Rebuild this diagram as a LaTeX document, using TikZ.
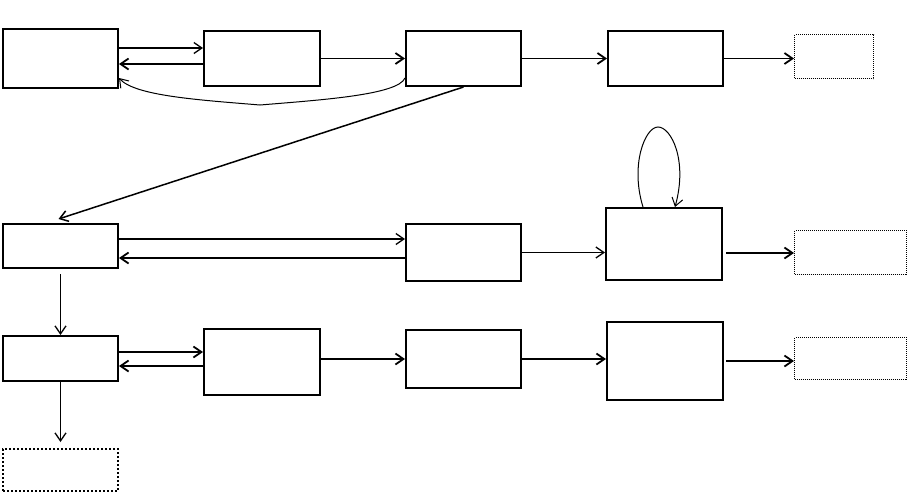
\documentclass[tikz,border=0pt]{standalone}
\usetikzlibrary{arrows.meta}
\begin{document}
\begin{tikzpicture}[x=1pt,y=-1pt,
  box/.style={draw, line width=2pt, inner sep=0pt, anchor=north west},
  dbox/.style={draw, line width=1pt, dash pattern=on 1pt off 1pt, inner sep=0pt, anchor=north west},
  dboxthick/.style={draw, line width=2pt, dash pattern=on 2pt off 2pt, inner sep=0pt, anchor=north west},
  tip/.style={-{Straight Barb[length=8pt,width=11pt]}},
  arr/.style={line width=1.8pt, tip},
  midarr/.style={line width=1.3pt, tip},
  thinarr/.style={line width=1pt, tip}]
\useasboundingbox (0,0) rectangle (907,491);
% row 1
\node[box, minimum width=115pt, minimum height=59pt] (A) at (2,28) {};
\node[box, minimum width=116pt, minimum height=55pt] (B) at (203,30) {};
\node[box, minimum width=115pt, minimum height=55pt] (C) at (405,30) {};
\node[box, minimum width=115pt, minimum height=55pt] (D) at (607,30) {};
\node[dbox, minimum width=79pt, minimum height=44pt] (E) at (794,34) {};
% row 2
\node[box, minimum width=115pt, minimum height=44pt] (F) at (2,223) {};
\node[box, minimum width=115pt, minimum height=57pt] (G) at (405,223) {};
\node[box, minimum width=116pt, minimum height=72pt] (H) at (605,207) {};
\node[dbox, minimum width=112pt, minimum height=44pt] (I) at (794,230) {};
% row 3
\node[box, minimum width=115pt, minimum height=45pt] (J) at (2,335) {};
\node[box, minimum width=116pt, minimum height=66pt] (K) at (203,328) {};
\node[box, minimum width=115pt, minimum height=58pt] (L) at (405,329) {};
\node[box, minimum width=116pt, minimum height=78pt] (M) at (606,321) {};
\node[dbox, minimum width=112pt, minimum height=42pt] (N) at (794,337) {};
\node[dboxthick, minimum width=115pt, minimum height=42pt] (O) at (2,448) {};
% row 1 connectors
\coordinate (a1) at ([yshift=10.5pt]A.east);
\coordinate (b2) at ([yshift=-5.5pt]B.west);
\draw[midarr] (a1) -- (a1 -| B.west);
\draw[arr] (b2) -- (b2 -| A.east);
\draw[arr] (B.east) -- (B.east -| C.west);
\draw[arr] (C.east) -- (C.east -| D.west);
\draw[arr] (D.east) -- (D.east -| E.west);
\draw[thinarr] ([yshift=-19.5pt]C.west) .. controls (398,95) and (320,100) .. (260,105)
  .. controls (200,100) and (135,96) .. ([yshift=-19.5pt]A.east);
\draw[line width=1.5pt, tip] (C.south) -- ([xshift=-2pt,yshift=4pt]F.north);
% row 2 connectors
\coordinate (f1) at ([yshift=7pt]F.east);
\coordinate (g2) at ([yshift=-5.5pt]G.west);
\draw[midarr] (f1) -- (f1 -| G.west);
\draw[arr] (g2) -- (g2 -| F.east);
\draw[midarr] (G.east) -- (G.east -| H.west);
\coordinate (h1) at ([xshift=3pt,yshift=-9pt]H.east);
\draw[arr] (h1) -- (h1 -| I.west);
\draw[thinarr] ([xshift=-21pt]H.north) .. controls (630,165) and (645,127) .. (658,127)
  .. controls (671,127) and (688,160) .. ([xshift=11pt]H.north);
\draw[midarr] ([yshift=-5pt]F.south) -- (J.north);
% row 3 connectors
\coordinate (j1) at ([yshift=6.5pt]J.east);
\coordinate (j2) at ([yshift=-7.5pt]J.east);
\draw[arr] (j1) -- (j1 -| K.west);
\draw[arr] (j2 -| K.west) -- (j2);
\draw[arr] (L.west -| K.east) -- (L.west);
\draw[arr] (L.east) -- (L.east -| M.west);
\draw[arr] ([xshift=2pt]M.east) -- (M.east -| N.west);
\draw[midarr] (J.south) -- ([yshift=6pt]O.north);
\end{tikzpicture}
\end{document}
